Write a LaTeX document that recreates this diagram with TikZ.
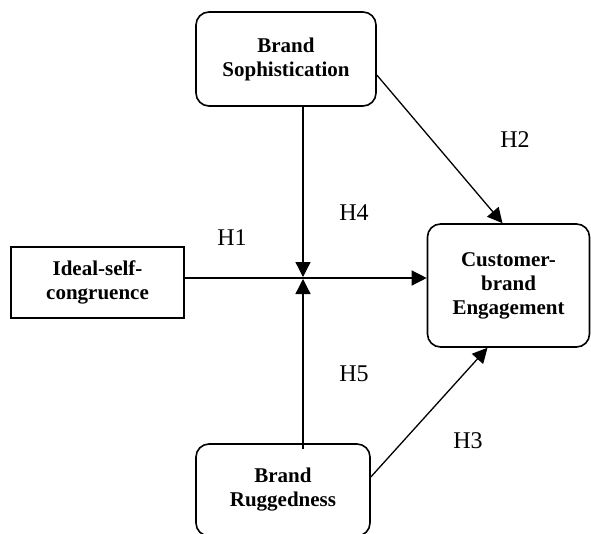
\documentclass[tikz,border=0pt]{standalone}
\usepackage{fontspec}
\setmainfont{Liberation Serif}
\usetikzlibrary{arrows.meta}
\begin{document}
\begin{tikzpicture}[x=1pt,y=-1pt,
  box/.style={draw, line width=1.6pt, align=center, font=\fontsize{21}{24}\selectfont\bfseries, inner sep=0pt},
  rbox/.style={box, rounded corners=13pt},
  arr/.style={line width=1.3pt, -{Triangle[length=15pt,width=15pt]}},
  ln/.style={line width=1.3pt},
  hlab/.style={font=\fontsize{24}{28}\selectfont, inner sep=0pt}]
\useasboundingbox (0,0) rectangle (591,533);
\clip (0,0) rectangle (591,533);
\node[rbox, minimum width=180pt, minimum height=94pt] (top) at (286,59) {Brand\\Sophistication};
\node[box, minimum width=173pt, minimum height=71pt] (ideal) at (97.5,282.5) {Ideal-self-\\congruence};
\node[rbox, minimum width=162pt, minimum height=123pt] (cbe) at (508.5,285.5) {Customer-\\brand\\Engagement};
\node[rbox, minimum width=174pt, minimum height=92pt] (rug) at (283,490) {Brand\\Ruggedness};
\coordinate (j) at (303,278);
\draw[arr] (ideal.east |- j) -- (cbe.west |- j);
\draw[arr, shorten >=1pt] (top.south -| j) -- (j);
\draw[arr, shorten >=1pt] ([yshift=-6pt]rug.north -| j) -- (j);
\draw[arr] ([yshift=-16pt]top.east) -- ([xshift=-6pt]cbe.north);
\draw[arr] ([yshift=13pt]rug.east) -- ([xshift=-21pt]cbe.south);
\node[hlab] (h1) at (232,238) {H1};
\node[hlab] (h4) at (354,213) {H4};
\node[hlab] (h2) at (515,140) {H2};
\node[hlab] (h5) at (354,374) {H5};
\node[hlab] (h3) at (468,441) {H3};
\end{tikzpicture}
\end{document}
